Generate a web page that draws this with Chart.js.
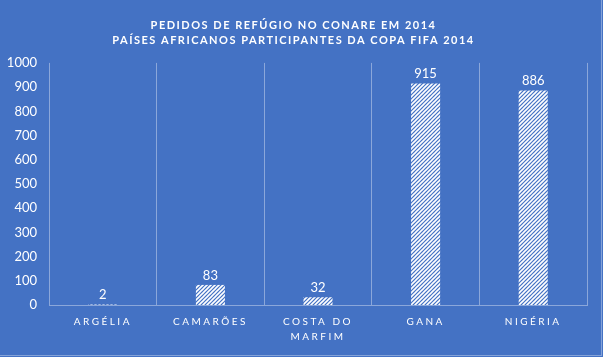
<!DOCTYPE html>
<html><head><meta charset="utf-8">
<script src="https://cdn.jsdelivr.net/npm/chart.js@4"></script>
<style>
html,body{margin:0;padding:0;background:#4472C4;}
#wrap{position:absolute;left:0;top:0;width:601px;height:355px;border-right:1px solid rgba(255,255,255,0.35);border-bottom:1px solid rgba(255,255,255,0.35);}
</style></head><body>
<div id="wrap"><canvas id="c" width="601" height="355"></canvas></div>
<script>
const titleLines = ["PEDIDOS DE REFÚGIO NO CONARE EM 2014", "PAÍSES AFRICANOS PARTICIPANTES DA COPA FIFA 2014"];
const categories = ["ARGÉLIA", ["CAMARÕES"], ["COSTA DO", "MARFIM"], "GANA", "NIGÉRIA"];
const pedidos = [2, 83, 32, 915, 886];
const yTicks = [0, 100, 200, 300, 400, 500, 600, 700, 800, 900, 1000];

const FONT = "Lato, 'Liberation Sans', sans-serif";
const LINE = 'rgba(255,255,255,0.38)';

function hatch() {
  const s = 4;
  const c = document.createElement('canvas');
  c.width = s; c.height = s;
  const g = c.getContext('2d');
  g.strokeStyle = '#ffffff';
  g.lineWidth = 1.6;
  g.beginPath();
  g.moveTo(-1, s + 1); g.lineTo(s + 1, -1);
  g.moveTo(-1, 1); g.lineTo(1, -1);
  g.moveTo(s - 1, s + 1); g.lineTo(s + 1, s - 1);
  g.stroke();
  return document.getElementById('c').getContext('2d').createPattern(c, 'repeat');
}

const valueLabels = {
  id: 'valueLabels',
  afterDatasetsDraw(chart) {
    const ctx = chart.ctx;
    const meta = chart.getDatasetMeta(0);
    ctx.save();
    ctx.fillStyle = '#ffffff';
    ctx.font = "13px " + FONT;
    ctx.textAlign = 'center';
    ctx.textBaseline = 'bottom';
    meta.data.forEach((bar, i) => {
      ctx.fillText(String(pedidos[i]), bar.x, bar.y - 3);
    });
    ctx.restore();
  }
};

const chart = new Chart(document.getElementById('c'), {
  type: 'bar',
  data: {
    labels: categories,
    datasets: [{
      data: pedidos,
      backgroundColor: hatch(),
      borderWidth: 0,
      barPercentage: 0.27,
      categoryPercentage: 1
    }]
  },
  options: {
    responsive: false,
    animation: false,
    devicePixelRatio: 1,
    layout: { padding: { left: 0, right: 14, top: 0, bottom: 0 } },
    plugins: {
      legend: { display: false },
      tooltip: { enabled: false },
      title: {
        display: true,
        text: titleLines,
        color: '#ffffff',
        font: { family: FONT, size: 11, weight: 'bold', lineHeight: 1.36 },
        padding: { top: 18, bottom: 15 }
      }
    },
    scales: {
      x: {
        grid: { offset: true, color: LINE, lineWidth: 1, drawTicks: false },
        border: { display: true, color: LINE },
        ticks: {
          color: '#ffffff',
          font: { family: FONT, size: 10, lineHeight: 1.45 },
          padding: 10,
          maxRotation: 0,
          autoSkip: false
        },
        afterFit(s) { s.height = 50; }
      },
      y: {
        min: 0, max: 1000,
        grid: { display: false, drawTicks: false },
        border: { display: false },
        afterBuildTicks(s) { s.ticks = yTicks.map(v => ({ value: v })); },
        ticks: {
          color: '#ffffff',
          font: { family: FONT, size: 13 },
          padding: 12,
          callback: (v) => String(v)
        },
        afterFit(s) { s.width = 49; }
      }
    }
  },
  plugins: [valueLabels]
});

function spaced(obj, fn, px) {
  const orig = obj[fn];
  obj[fn] = function (...a) {
    const ctx = this.ctx || chart.ctx;
    ctx.save();
    ctx.letterSpacing = px;
    const r = orig.apply(this, a);
    ctx.restore();
    return r;
  };
}
spaced(chart.scales.x, 'drawLabels', '2.5px');
if (chart.titleBlock) spaced(chart.titleBlock, 'draw', '1.5px');
chart.draw();
</script>
</body></html>
